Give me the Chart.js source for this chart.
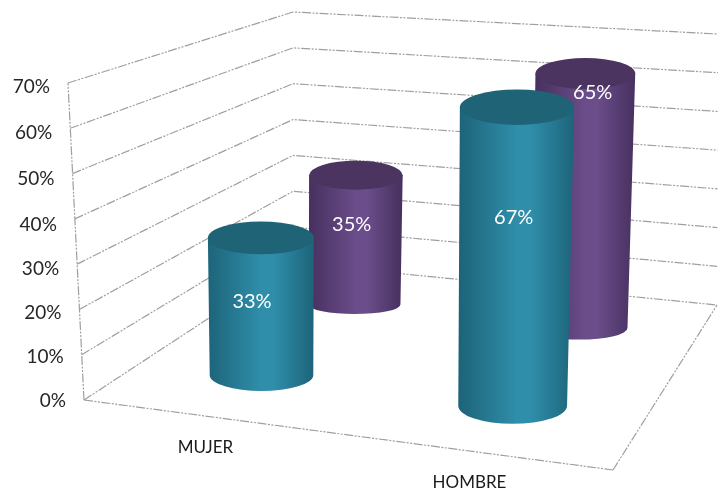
<!DOCTYPE html>
<html>
<head>
<meta charset="utf-8">
<style>html,body{margin:0;padding:0;background:#fff}#wrap{width:718px;height:492px}</style>
<script src="https://cdn.jsdelivr.net/npm/chart.js@4"></script>
</head>
<body>
<div id="wrap"><canvas id="c" width="718" height="492"></canvas></div>
<script>
const categories = ['MUJER', 'HOMBRE'];
const seriesFront = [33, 67];
const seriesBack = [35, 65];
const yMax = 70;
const yStep = 10;

// Floor / wall corners of the 3D box (projection set-up)
const A = [84, 400], B = [613, 470], C = [717, 305], D = [293, 263];
const E = [68, 83], H = [293, 12], G = [718, 34];
// label placement inside each cylinder: [front, back] per category
const labelFrac = {0: [0.542, 0.625], 1: [0.635, 0.932]};
const labelShift = {0: [-9.5, -3], 1: [1, 13]};

const styles = [
  {edge: '#1d6479', mid: '#2f8eaa', top: '#1f6377'},
  {edge: '#47305f', mid: '#6a4d8a', top: '#4b3560'}
];

function makeFloor() {
  const dx1 = B[0]-C[0], dx2 = D[0]-C[0], sx = A[0]-B[0]+C[0]-D[0];
  const dy1 = B[1]-C[1], dy2 = D[1]-C[1], sy = A[1]-B[1]+C[1]-D[1];
  const det = dx1*dy2 - dx2*dy1;
  const g = (sx*dy2 - dx2*sy)/det, h = (dx1*sy - sx*dy1)/det;
  const a = B[0]-A[0]+g*B[0], b = D[0]-A[0]+h*D[0];
  const d = B[1]-A[1]+g*B[1], e = D[1]-A[1]+h*D[1];
  return (u, w) => {
    const den = g*u + h*w + 1;
    return {x: (a*u+b*w+A[0])/den, y: (d*u+e*w+A[1])/den, den};
  };
}
const floor = makeFloor();
const lerp = (p, q, t) => [p[0]+(q[0]-p[0])*t, p[1]+(q[1]-p[1])*t];

function drawCylinder(ctx, f, pxHeight, st) {
  const rB = 54/f.den;
  const h = pxHeight/f.den*(0.945 + pxHeight*0.00017);
  const cxB = f.x + (f.x-293)*0.01, cyB = f.y + 2;
  const cxT = cxB + (f.x-293)*0.02, cyT = f.y - h;
  const rT = rB*(1 + h*0.00017);
  const ryB = Math.max(6, (f.y-190)*0.085), ryT = rT*0.31;
  const grad = ctx.createLinearGradient(cxT-rT, 0, cxT+rT, 0);
  grad.addColorStop(0, st.edge);
  grad.addColorStop(0.5, st.mid);
  grad.addColorStop(0.62, st.mid);
  grad.addColorStop(1, st.edge);
  ctx.fillStyle = grad;
  ctx.beginPath();
  ctx.moveTo(cxT-rT, cyT);
  ctx.lineTo(cxB-rB, cyB);
  ctx.ellipse(cxB, cyB, rB, ryB, 0, Math.PI, 0, true);
  ctx.lineTo(cxT+rT, cyT);
  ctx.closePath();
  ctx.fill();
  ctx.fillStyle = st.top;
  ctx.beginPath();
  ctx.ellipse(cxT, cyT, rT, ryT, 0, 0, Math.PI*2);
  ctx.fill();
  return {cxB, cyB, h};
}

const box3d = {
  id: 'box3d',
  afterDatasetsDraw(chart) {
    const ctx = chart.ctx, ys = chart.scales.y, xs = chart.scales.x, area = chart.chartArea;
    const y0 = ys.getPixelForValue(0), yTop = ys.getPixelForValue(yMax);
    ctx.save();
    // walls
    ctx.strokeStyle = '#9f9f9f';
    ctx.lineWidth = 1.2;
    ctx.setLineDash([9, 1.5, 2, 1.5, 2, 1.5]);
    ys.ticks.forEach(t => {
      const f = (y0 - ys.getPixelForValue(t.value))/(y0 - yTop);
      const p = lerp(A, E, f), q = lerp(D, H, f), r = lerp(C, G, f);
      ctx.beginPath();
      ctx.moveTo(p[0], p[1]); ctx.lineTo(q[0], q[1]); ctx.lineTo(r[0], r[1]);
      ctx.stroke();
    });
    [[A, E], [A, B], [B, C]].forEach(([p, q]) => {
      ctx.beginPath(); ctx.moveTo(p[0], p[1]); ctx.lineTo(q[0], q[1]); ctx.stroke();
    });
    ctx.setLineDash([]);

    // axis text
    ctx.fillStyle = '#262626';
    ctx.font = '19px Lato';
    ctx.textAlign = 'right';
    ctx.textBaseline = 'middle';
    ys.ticks.forEach(t => {
      const f = (y0 - ys.getPixelForValue(t.value))/(y0 - yTop);
      const p = lerp(A, E, f);
      ctx.fillText(t.label, p[0]-18, p[1] + 0.5 + 5.2*Math.sin(f*Math.PI*0.8));
    });
    ctx.font = '17px Lato';
    ctx.textAlign = 'center';
    ctx.fillStyle = '#1a1a1a';
    xs.ticks.forEach((t, i) => {
      const u = (xs.getPixelForValue(i) - area.left)/(area.right - area.left);
      const p = floor(u, 0);
      ctx.fillText(xs.getLabelForValue(t.value), p.x - 0.5, p.y + 31);
    });

    // cylinders, back to front within each category
    const metas = [chart.getDatasetMeta(0), chart.getDatasetMeta(1)];
    categories.forEach((cat, i) => {
      const u = (xs.getPixelForValue(i) - area.left)/(area.right - area.left);
      [1, 0].forEach(s => {
        const val = chart.data.datasets[s].data[i];
        const f = floor(u, s === 0 ? 0.25 : 0.75);
        const px = y0 - metas[s].data[i].y;
        const c = drawCylinder(ctx, f, px, styles[s]);
        ctx.fillStyle = '#ffffff';
        ctx.font = '20px Lato';
        ctx.textAlign = 'center';
        ctx.fillText(val + '%', c.cxB + labelShift[i][s], c.cyB - c.h*labelFrac[i][s]);
      });
    });
    ctx.restore();
  }
};

new Chart(document.getElementById('c'), {
  type: 'bar',
  data: {
    labels: categories,
    datasets: [
      {label: 'Serie 1', data: seriesFront, backgroundColor: 'rgba(0,0,0,0)', borderWidth: 0},
      {label: 'Serie 2', data: seriesBack, backgroundColor: 'rgba(0,0,0,0)', borderWidth: 0}
    ]
  },
  options: {
    responsive: false,
    animation: false,
    layout: {padding: {left: 68, right: 105, top: 83, bottom: 92}},
    plugins: {legend: {display: false}, tooltip: {enabled: false}, title: {display: false}},
    scales: {
      x: {grid: {display: false}, border: {display: false}, ticks: {display: false}},
      y: {
        min: 0, max: yMax,
        grid: {display: false}, border: {display: false},
        ticks: {display: false, stepSize: yStep, callback: v => v + '%'}
      }
    }
  },
  plugins: [box3d]
});
</script>
</body>
</html>
